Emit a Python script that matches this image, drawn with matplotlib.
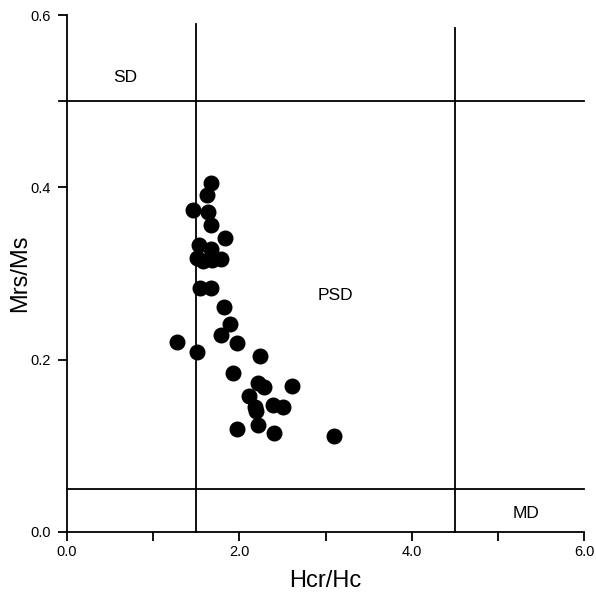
import matplotlib
matplotlib.use("Agg")
import matplotlib.pyplot as plt
from matplotlib.ticker import MultipleLocator

plt.rcParams['font.family'] = ['Liberation Sans', 'DejaVu Sans']

# hysteresis ratios per sample
hcr_hc = [1.67, 1.63, 1.46, 1.64, 1.67, 1.84, 1.53, 1.67, 1.51, 1.58, 1.68, 1.79,
          1.55, 1.67, 1.82, 1.89, 1.79, 1.28, 1.97, 1.51, 2.24, 1.93, 2.22, 2.29,
          2.61, 2.11, 2.18, 2.20, 2.39, 2.51, 1.97, 2.22, 2.40, 3.10]
mrs_ms = [0.405, 0.391, 0.374, 0.371, 0.356, 0.341, 0.333, 0.328, 0.318, 0.314, 0.316, 0.317,
          0.283, 0.283, 0.261, 0.241, 0.229, 0.220, 0.219, 0.209, 0.204, 0.185, 0.173, 0.168,
          0.169, 0.158, 0.145, 0.140, 0.147, 0.145, 0.120, 0.124, 0.115, 0.111]

# domain-state boundaries
hcr_limits = [1.5, 4.5]
mrs_limits = [0.5, 0.05]

x_ticks = [0, 2, 4, 6]
x_ticklabels = ['0.0', '2.0', '4.0', '6.0']
y_ticks = [0.0, 0.2, 0.4, 0.6]
y_ticklabels = ['0.0', '0.2', '0.4', '0.6']

fig = plt.figure(figsize=(5.96, 5.94), dpi=100)
ax = fig.add_axes([0.1119, 0.1044, 0.8685, 0.8703])

ax.set_xlim(0, 6)
ax.set_ylim(0, 0.6)

lw = 1.3
for s in ['top', 'right']:
    ax.spines[s].set_visible(False)
for s in ['left', 'bottom']:
    ax.spines[s].set_linewidth(lw)

# boundary lines
ax.plot([-0.09, 6], [mrs_limits[0]] * 2, color='black', lw=lw, clip_on=False)
ax.plot([0, 6], [mrs_limits[1]] * 2, color='black', lw=lw, clip_on=False)
ax.plot([hcr_limits[0]] * 2, [0, 0.59], color='black', lw=lw, clip_on=False)
ax.plot([hcr_limits[1]] * 2, [0, 0.585], color='black', lw=lw, clip_on=False)

ax.plot(hcr_hc, mrs_ms, 'o', color='black', ms=10.5, mec='black', zorder=3)

ax.text(0.68, 0.527, 'SD', fontsize=12.5, ha='center', va='center')
ax.text(3.11, 0.274, 'PSD', fontsize=12.5, ha='center', va='center')
ax.text(5.32, 0.0215, 'MD', fontsize=12.5, ha='center', va='center')

ax.set_xticks(x_ticks)
ax.set_xticklabels(x_ticklabels)
ax.xaxis.set_minor_locator(MultipleLocator(1))
ax.set_yticks(y_ticks)
ax.set_yticklabels(y_ticklabels)
ax.tick_params(axis='both', which='both', direction='out', length=6.5, width=lw,
               labelsize=10.5)
ax.tick_params(axis='x', pad=3)
ax.tick_params(axis='y', pad=5)

ax.set_xlabel('Hcr/Hc', fontsize=17, labelpad=8)
ax.set_ylabel('Mrs/Ms', fontsize=17, labelpad=-1)

fig.savefig('out.png', dpi=100)
